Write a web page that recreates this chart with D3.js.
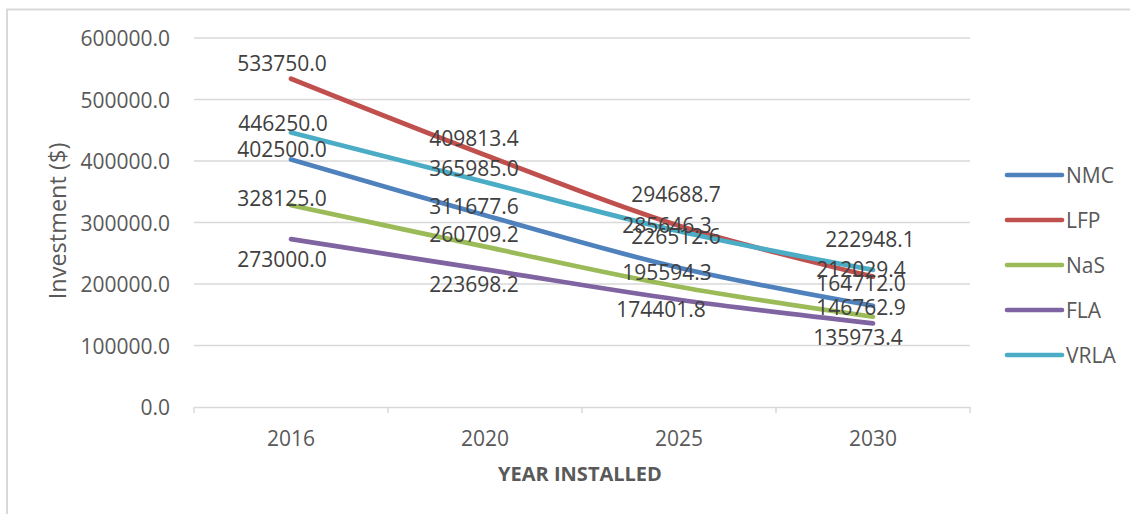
<!DOCTYPE html>
<html>
<head>
<meta charset="utf-8">
<script src="https://cdn.jsdelivr.net/npm/d3@7"></script>
<style>
  html, body { margin: 0; padding: 0; background: #fff; }
  svg { display: block; font-family: "Open Sans", "Liberation Sans", sans-serif; }
</style>
</head>
<body>
<svg id="chart" width="1130" height="514"></svg>
<script>
// ---- data ----
const years = ["2016", "2020", "2025", "2030"];
const seriesNames = ["NMC", "LFP", "NaS", "FLA", "VRLA"];
const NMC  = [402500.0, 311677.6, 226512.6, 164712.0];
const LFP  = [533750.0, 409813.4, 294688.7, 212029.4];
const NaS  = [328125.0, 260709.2, 195594.3, 146762.9];
const FLA  = [273000.0, 223698.2, 174401.8, 135973.4];
const VRLA = [446250.0, 365985.0, 285646.3, 222948.1];
const yTicks = [0, 100000, 200000, 300000, 400000, 500000, 600000];

// ---- styles / layout (kept apart from data) ----
const colors = { NMC: "#4F81BD", LFP: "#C0504D", NaS: "#9BBB59", FLA: "#8064A2", VRLA: "#4BACC6" };
// label nudges [dx, dy] relative to each point
const labelNudge = {
  NMC:  [[-9, -10], [-11, -9], [-3, -31], [-12, -22]],
  LFP:  [[-9, -15], [-11, -17], [-3, -31], [-12, -7]],
  NaS:  [[-9, -7],  [-11, -12], [-12, -14], [-12, -9]],
  FLA:  [[-9, 20],  [-11, 15], [-18, 10], [-15, 14]],
  VRLA: [[-8, -9],  [-11, -13], [-12, -6], [-3, -30]]
};

const seriesData = { NMC, LFP, NaS, FLA, VRLA };
const svg = d3.select("#chart");

// chart border (left + top visible)
svg.append("rect").attr("x", 7).attr("y", 9.5).attr("width", 1200).attr("height", 600)
  .attr("fill", "none").attr("stroke", "#d9d9d9").attr("stroke-width", 2);

const x = d3.scaleBand().domain(years).range([194, 970]).padding(0);
const y = d3.scaleLinear().domain([0, 600000]).range([407, 38]);

// gridlines
svg.append("g").selectAll("line").data(yTicks.filter(d => d > 0)).join("line")
  .attr("x1", 194).attr("x2", 970)
  .attr("y1", d => y(d)).attr("y2", d => y(d))
  .attr("stroke", "#d9d9d9").attr("stroke-width", 1.3);

// y axis labels
const yAxis = d3.axisLeft(y).tickValues(yTicks).tickFormat(d3.format(".1f")).tickSize(0).tickPadding(0);
const gy = svg.append("g").attr("transform", "translate(170,0)").call(yAxis);
gy.select(".domain").remove();
gy.selectAll("text").attr("font-size", 21).attr("fill", "#595959")
  .attr("font-family", "'Open Sans', sans-serif").attr("dy", "0.36em");

// x axis
const xAxis = d3.axisBottom(x).tickSize(0).tickPadding(0);
const gx = svg.append("g").attr("transform", "translate(0,407)").call(xAxis);
gx.select(".domain").attr("stroke", "#d9d9d9").attr("stroke-width", 1.5);
gx.selectAll("text").attr("font-size", 21).attr("fill", "#595959")
  .attr("font-family", "'Open Sans', sans-serif").attr("y", 31).attr("dy", "0.36em");
// category boundary tick marks
const edges = years.map(d => x(d)).concat([x(years[years.length - 1]) + x.bandwidth()]);
svg.append("g").selectAll("line").data(edges).join("line")
  .attr("x1", d => d).attr("x2", d => d).attr("y1", 407).attr("y2", 413)
  .attr("stroke", "#d9d9d9").attr("stroke-width", 1.5);

// axis titles
svg.append("text").attr("transform", "translate(58,221) rotate(-90)")
  .attr("text-anchor", "middle").attr("dy", "0.36em")
  .attr("font-size", 23.5).attr("fill", "#595959").text("Investment ($)");
svg.append("text").attr("x", 580).attr("y", 474).attr("text-anchor", "middle").attr("dy", "0.36em")
  .attr("font-size", 20).attr("font-weight", "bold").attr("fill", "#595959").text("YEAR INSTALLED");

// lines
const line = d3.line()
  .x((d, i) => x(years[i]) + x.bandwidth() / 2)
  .y(d => y(d))
  .curve(d3.curveCatmullRom.alpha(0.5));

svg.append("g").selectAll("path").data(seriesNames).join("path")
  .attr("d", s => line(seriesData[s]))
  .attr("fill", "none").attr("stroke", s => colors[s])
  .attr("stroke-width", 4.7).attr("stroke-linecap", "round").attr("stroke-linejoin", "round");

// data labels
const lab = svg.append("g");
seriesNames.forEach(s => {
  seriesData[s].forEach((v, i) => {
    const [dx, dy] = labelNudge[s][i];
    lab.append("text")
      .attr("x", x(years[i]) + x.bandwidth() / 2 + dx)
      .attr("y", y(v) + dy)
      .attr("dy", "0.36em").attr("text-anchor", "middle")
      .attr("font-size", 21).attr("fill", "#404040")
      .text(d3.format(".1f")(v));
  });
});

// legend
const lg = svg.append("g").selectAll("g").data(seriesNames).join("g")
  .attr("transform", (d, i) => `translate(1007,${175 + i * 45})`);
lg.append("line").attr("x1", 0).attr("x2", 55).attr("y1", 0).attr("y2", 0)
  .attr("stroke", d => colors[d]).attr("stroke-width", 4.7).attr("stroke-linecap", "round");
lg.append("text").attr("x", 59).attr("y", 0).attr("dy", "0.36em")
  .attr("font-size", 21).attr("fill", "#595959").text(d => d);
</script>
</body>
</html>
